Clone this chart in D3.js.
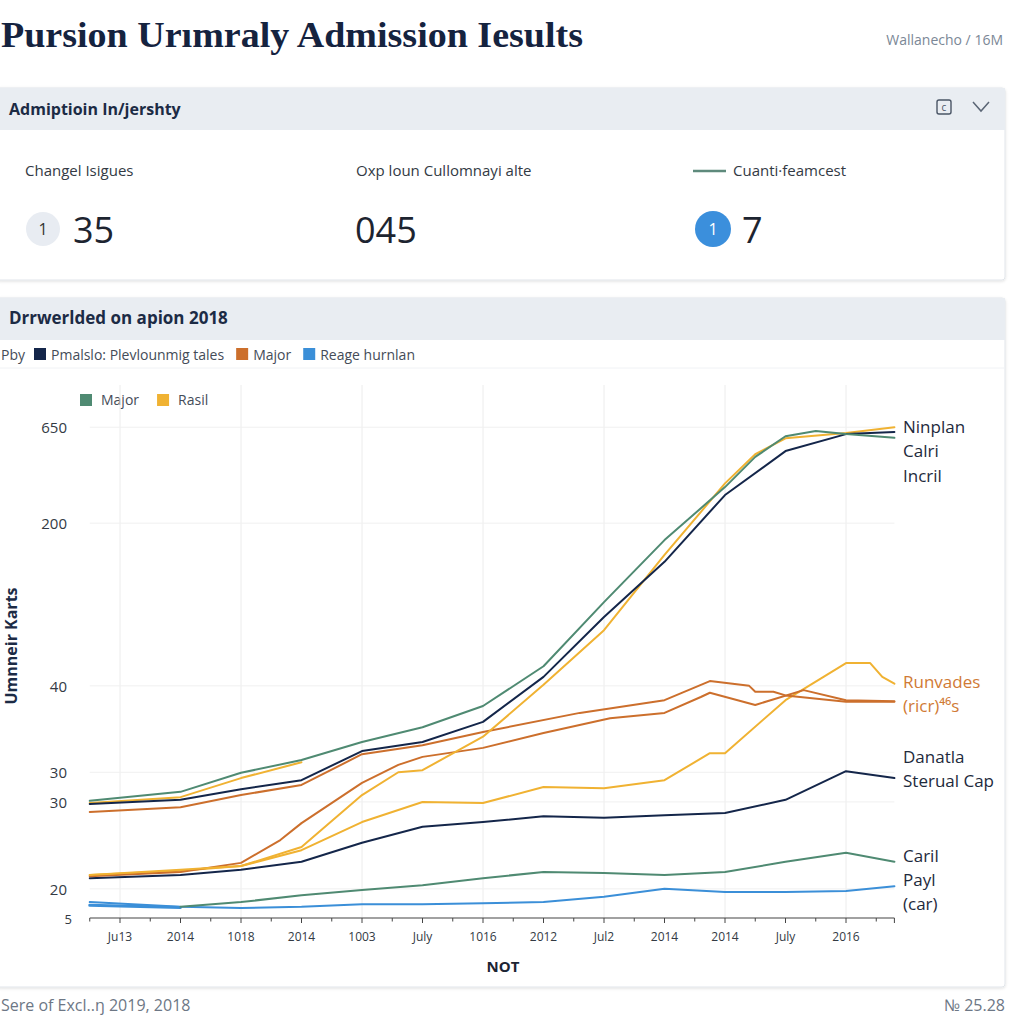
<!DOCTYPE html>
<html><head><meta charset="utf-8">
<script src="https://cdn.jsdelivr.net/npm/d3@7"></script>
<style>
html,body{margin:0;padding:0;background:#fff;overflow:hidden}
svg{display:block}
</style></head>
<body>
<script>
// ---------- DATA ----------
const xTickLabels = ["Ju13","2014","1018","2014","1003","July","1016","2012","Jul2","2014","2014","July","2016"];
const yTickValues = [0, 5.5, 21.9, 27.5, 43.8, 74.5, 92.6];
const yTickLabels = ["5","20","30","30","40","200","650"];

const greenTop   = [[-0.5,22.1],[1,23.8],[2,27.4],[3,29.8],[4,33.2],[5,36.0],[6,40.0],[7,47.5],[8,59.6],[9,71.3],[10,81.3],[10.5,87.0],[11,90.9],[11.5,91.9],[12,91.3],[12.8,90.6]];
const navyTop    = [[-0.5,21.5],[1,22.3],[2,24.3],[3,26.0],[4,31.5],[5,33.2],[6,37.0],[7,45.5],[8,56.8],[9,67.2],[10,79.8],[11,88.1],[12,91.3],[12.8,91.7]];
const goldRise   = [[-0.5,8.1],[1,9.1],[2,9.8],[3,13.4],[4,23.2],[4.6,27.5],[5,27.9],[6,34.2],[7,44.0],[8,54.3],[9,68.5],[10,82.0],[10.5,87.5],[11,90.5],[12,91.5],[12.8,92.6]];
const goldTop    = [[-0.5,21.7],[1,22.8],[2,26.4],[3,29.4]];
const orangeTop  = [[-0.5,20.0],[1,20.9],[2,23.2],[3,25.1],[4,30.9],[5,32.6],[6,35.1],[7.6,38.7],[9,41.1],[9.75,44.7],[10.4,43.8],[10.5,42.7],[10.8,42.7],[11,42.0],[12,40.8],[12.8,40.8]];
const orangeLow  = [[-0.5,7.9],[1,8.7],[2,10.4],[2.65,14.7],[3,17.9],[4,25.5],[4.6,28.9],[5,30.4],[6,32.1],[7,34.9],[8.1,37.7],[9,38.7],[9.6,41.7],[9.75,42.5],[10.5,40.2],[11.3,43.0],[12,41.1],[12.8,40.9]];
const goldMid    = [[-0.5,8.1],[1,8.9],[2,9.8],[3,12.8],[4,18.1],[5,21.9],[6,21.7],[7,24.7],[8,24.5],[9,26.0],[9.75,31.1],[10,31.1],[11,41.1],[12,48.1],[12.4,48.1],[12.6,45.5],[12.8,44.2]];
const navyLow    = [[-0.5,7.5],[1,8.1],[2,9.1],[3,10.6],[4,14.2],[5,17.2],[6,18.1],[7,19.2],[8,18.9],[9,19.4],[10,19.8],[11,22.3],[12,27.7],[12.8,26.4]];
const greenLow   = [[1,2.1],[2,3.0],[3,4.3],[4,5.3],[5,6.2],[6,7.5],[7,8.7],[8,8.5],[9,8.1],[10,8.7],[11,10.6],[12,12.3],[12.8,10.6]];
const blueLow    = [[-0.5,3.0],[1,2.1],[2,1.9],[3,2.1],[4,2.6],[5,2.6],[6,2.8],[7,3.0],[8,4.0],[9,5.5],[10,4.9],[11,4.9],[12,5.1],[12.8,6.0]];
const blueStart  = [[-0.5,2.4],[1,2.0]];

const C = {green:"#4f8a72", gold:"#f0b232", orange:"#cc6f2c", navy:"#14264a", blue:"#3b8fd8"};
const series = [
  {d:blueStart, c:C.blue, w:3},
  {d:blueLow,   c:C.blue, w:2},
  {d:greenLow,  c:C.green, w:2},
  {d:navyLow,   c:C.navy, w:2},
  {d:goldMid,   c:C.gold, w:2},
  {d:orangeLow, c:C.orange, w:2},
  {d:orangeTop, c:C.orange, w:2},
  {d:goldTop,   c:C.gold, w:2},
  {d:goldRise,  c:C.gold, w:2},
  {d:navyTop,   c:C.navy, w:2},
  {d:greenTop,  c:C.green, w:2}
];

const topLegend = [{c:C.navy,t:"Pmalslo: Plevlounmig tales"},{c:C.orange,t:"Major"},{c:C.blue,t:"Reage hurnlan"}];
const innerLegend = [{c:C.green,t:"Major"},{c:C.gold,t:"Rasil"}];
const rightLabels = [
  {t:"Ninplan",y:92.6,c:"#1e2a3c"},{t:"Calri",y:88.1,c:"#1e2a3c"},{t:"Incril",y:83.4,c:"#1e2a3c"},
  {t:"Runvades",y:44.5,c:"#d07a35"},{t:"(ricr)\u2074\u2076s",y:40.0,c:"#d07a35"},
  {t:"Danatla",y:30.4,c:"#1e2a3c"},{t:"Sterual Cap",y:25.8,c:"#1e2a3c"},
  {t:"Caril",y:11.7,c:"#1e2a3c"},{t:"Payl",y:7.2,c:"#1e2a3c"},{t:"(car)",y:2.6,c:"#1e2a3c"}
];

// ---------- DRAW ----------
const W=1024,H=1024;
const svg=d3.select("body").append("svg").attr("width",W).attr("height",H);
const sans="'Open Sans','Noto Sans',sans-serif";

// title
svg.append("text").attr("x",1).attr("y",47).text("Pursion Urımraly Admission Iesults")
  .style("font-family","'Liberation Serif','DejaVu Serif',serif").style("font-weight","bold")
  .style("font-size","35px").attr("fill","#15233f").attr("textLength",582).attr("lengthAdjust","spacingAndGlyphs");
svg.append("text").attr("x",1003).attr("y",45).attr("text-anchor","end").text("Wallanecho / 16M")
  .style("font-family",sans).style("font-size","14px").attr("fill","#7b8796");

// card 1
const defs=svg.append("defs");
const f=defs.append("filter").attr("id","sh").attr("x","-5%").attr("y","-5%").attr("width","110%").attr("height","115%");
f.append("feDropShadow").attr("dx",0).attr("dy",1).attr("stdDeviation",1.5).attr("flood-color","#000").attr("flood-opacity",0.12);

svg.append("rect").attr("x",-4).attr("y",88).attr("width",1009).attr("height",192).attr("fill","#fff")
  .attr("stroke","#e1e5ea").attr("filter","url(#sh)").attr("rx",3);
svg.append("rect").attr("x",-4).attr("y",88).attr("width",1009).attr("height",42).attr("fill","#e9edf2");
svg.append("text").attr("x",9).attr("y",115).text("Admiptioin In/jershty")
  .style("font-family",sans).style("font-weight","bold").style("font-size","16px").attr("fill","#1c2b45");
svg.append("rect").attr("x",937).attr("y",100).attr("width",14).attr("height",14).attr("rx",2)
  .attr("fill","none").attr("stroke","#4a5566").attr("stroke-width",1.4);
svg.append("text").attr("x",944).attr("y",111).attr("text-anchor","middle").text("c")
  .style("font-family",sans).style("font-size","10px").attr("fill","#4a5566");
svg.append("path").attr("d","M973,102 L981,111 L989,102").attr("fill","none").attr("stroke","#5a6575").attr("stroke-width",1.5);

svg.append("text").attr("x",25).attr("y",176).text("Changel Isigues").style("font-family",sans).style("font-size","15px").attr("fill","#333a44");
svg.append("text").attr("x",356).attr("y",176).text("Oxp loun Cullomnayi alte").style("font-family",sans).style("font-size","15px").attr("fill","#333a44");
svg.append("line").attr("x1",693).attr("x2",726).attr("y1",171).attr("y2",171).attr("stroke","#5e8a7c").attr("stroke-width",2.5);
svg.append("text").attr("x",733).attr("y",176).text("Cuanti\u00b7feamcest").style("font-family",sans).style("font-size","15px").attr("fill","#333a44");

svg.append("circle").attr("cx",43).attr("cy",229).attr("r",17).attr("fill","#e8ecf2");
svg.append("text").attr("x",43).attr("y",235).attr("text-anchor","middle").text("1").style("font-family",sans).style("font-size","16px").attr("fill","#333");
svg.append("text").attr("x",73).attr("y",243).text("35").style("font-family",sans).style("font-size","36px").attr("fill","#1d2430");
svg.append("text").attr("x",355).attr("y",243).text("045").style("font-family",sans).style("font-size","36px").attr("fill","#1d2430");
svg.append("circle").attr("cx",713).attr("cy",229).attr("r",18).attr("fill","#3b8fdc");
svg.append("text").attr("x",713).attr("y",235).attr("text-anchor","middle").text("1").style("font-family",sans).style("font-size","16px").attr("fill","#fff");
svg.append("text").attr("x",742).attr("y",243).text("7").style("font-family",sans).style("font-size","36px").attr("fill","#1d2430");

// card 2
svg.append("rect").attr("x",-4).attr("y",298).attr("width",1009).attr("height",689).attr("fill","#fff")
  .attr("stroke","#e1e5ea").attr("filter","url(#sh)").attr("rx",3);
svg.append("rect").attr("x",-4).attr("y",298).attr("width",1009).attr("height",42).attr("fill","#e9edf2");
svg.append("text").attr("x",9).attr("y",324).text("Drrwerlded on apion 2018")
  .style("font-family",sans).style("font-weight","bold").style("font-size","17px").attr("fill","#1c2b45");
svg.append("line").attr("x1",0).attr("x2",1004).attr("y1",368).attr("y2",368).attr("stroke","#f0f2f5");

// top legend
svg.append("text").attr("x",1).attr("y",360).text("Pby").style("font-family",sans).style("font-size","14px").attr("fill","#444c58");
let lx=34;
const tl=svg.append("g");
topLegend.forEach(it=>{
  tl.append("rect").attr("x",lx).attr("y",348).attr("width",12).attr("height",12).attr("fill",it.c);
  const t=tl.append("text").attr("x",lx+17).attr("y",360).text(it.t).style("font-family",sans).style("font-size","14px").attr("fill","#444c58");
  lx+=17+t.node().getComputedTextLength()+12;
});
// inner legend
let ix=80;
innerLegend.forEach(it=>{
  svg.append("rect").attr("x",ix).attr("y",394).attr("width",12).attr("height",12).attr("fill",it.c);
  const t=svg.append("text").attr("x",ix+21).attr("y",405).text(it.t).style("font-family",sans).style("font-size","14px").attr("fill","#444c58");
  ix+=21+t.node().getComputedTextLength()+18;
});

// scales
const x=d3.scaleLinear().domain([0,12]).range([120,846]);
const y=d3.scaleLinear().domain([0,100]).range([918,388]);

// grid
const g=svg.append("g");
d3.range(0,13,2).forEach(i=>{
  g.append("line").attr("x1",x(i)).attr("x2",x(i)).attr("y1",385).attr("y2",918).attr("stroke","#ececec").attr("stroke-width",1);
});
yTickValues.slice(1).forEach(v=>{
  g.append("line").attr("x1",x(-0.5)).attr("x2",x(12.8)).attr("y1",y(v)).attr("y2",y(v)).attr("stroke","#f0f0f0").attr("stroke-width",1);
});

// y tick labels
yTickValues.forEach((v,i)=>{
  svg.append("text").attr("x",i===0?72:67).attr("y",y(v)+6).attr("text-anchor","end").text(yTickLabels[i])
    .style("font-family",sans).style("font-size",i===0?"13px":"15px").attr("fill","#333a44");
});
svg.append("text").attr("transform",`translate(17,646) rotate(-90)`).attr("text-anchor","middle").text("Umnneir Karts")
  .style("font-family",sans).style("font-weight","bold").style("font-size","16px").attr("fill","#1c2b45");

// x axis
const xa=svg.append("g").attr("transform","translate(0,918)");
xa.append("line").attr("x1",x(-0.5)).attr("x2",x(12.8)).attr("stroke","#444").attr("stroke-width",1.2);
d3.range(-0.5,13,0.5).forEach(v=>{
  xa.append("line").attr("x1",x(v)).attr("x2",x(v)).attr("y1",0).attr("y2",Number.isInteger(v)?5:3.5).attr("stroke","#444");
});
xa.append("line").attr("x1",x(12.8)).attr("x2",x(12.8)).attr("y1",0).attr("y2",5).attr("stroke","#444");
xTickLabels.forEach((t,i)=>{
  xa.append("text").attr("x",x(i)).attr("y",23).attr("text-anchor","middle").text(t)
    .style("font-family",sans).style("font-size","12px").attr("fill","#333a44");
});
svg.append("text").attr("x",503).attr("y",972).attr("text-anchor","middle").text("NOT")
  .style("font-family",sans).style("font-weight","bold").style("font-size","15px").attr("fill","#1c2433");

// lines
const line=d3.line().x(d=>x(d[0])).y(d=>y(d[1]));
series.forEach(s=>{
  svg.append("path").attr("d",line(s.d)).attr("fill","none").attr("stroke",s.c).attr("stroke-width",s.w)
    .attr("stroke-linejoin","round").attr("stroke-linecap","round");
});

// right labels
rightLabels.forEach(r=>{
  svg.append("text").attr("x",903).attr("y",y(r.y)+6).text(r.t)
    .style("font-family",sans).style("font-size","17px").attr("fill",r.c);
});

// footer
svg.append("text").attr("x",1).attr("y",1011).text("Sere of Excl..\u014b 2019, 2018")
  .style("font-family",sans).style("font-size","16px").attr("fill","#6d7785");
svg.append("text").attr("x",1005).attr("y",1011).attr("text-anchor","end").text("\u2116 25.28")
  .style("font-family",sans).style("font-size","16px").attr("fill","#6d7785");
</script>
</body></html>
